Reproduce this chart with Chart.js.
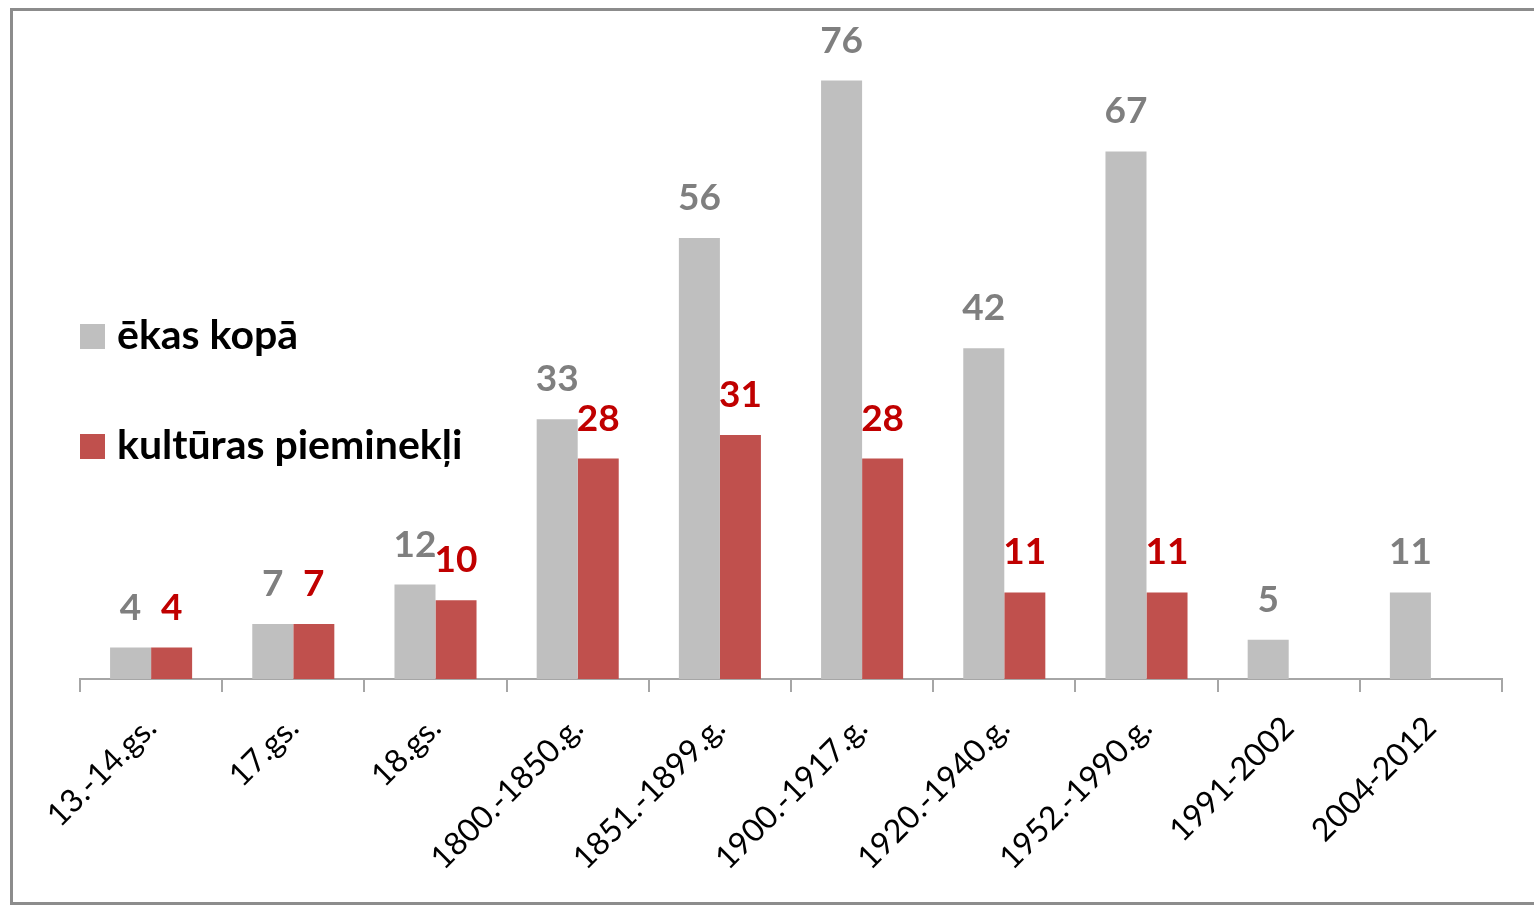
<!DOCTYPE html>
<html>
<head>
<meta charset="utf-8">
<script src="https://cdn.jsdelivr.net/npm/chart.js@4.4.0/dist/chart.umd.min.js"></script>
<style>
    body { margin: 0; background: #fff; overflow: hidden; }
    #frame {
        position: absolute; left: 10px; top: 8px; width: 1600px; height: 897px;
        box-sizing: border-box; border: 3px solid #8c8c8c;
    }
    #chart { position: absolute; left: 0; top: 0; }
</style>
</head>
<body>
<div id="frame"></div>
<canvas id="chart" width="1534" height="906"></canvas>
<script>
    const periods = ['13.-14.gs.', '17.gs.', '18.gs.', '1800.-1850.g.', '1851.-1899.g.', '1900.-1917.g.', '1920.-1940.g.', '1952.-1990.g.', '1991-2002', '2004-2012']
    const buildingsTotal = [4, 7, 12, 33, 56, 76, 42, 67, 5, 11]
    const monuments = [4, 7, 10, 28, 31, 28, 11, 11, null, null]
    const seriesNames = ['ēkas kopā', 'kultūras pieminekļi']

    const FONT = 'Lato, "Open Sans", sans-serif'

    // value labels above each bar
    const valueLabels = {
        id: 'valueLabels',
        afterDatasetsDraw(chart) {
            const ctx = chart.ctx
            ctx.save()
            ctx.textAlign = 'center'
            ctx.textBaseline = 'alphabetic'
            chart.data.datasets.forEach((ds, i) => {
                const meta = chart.getDatasetMeta(i)
                ctx.fillStyle = ds.labelColor
                ctx.font = 'bold 37px ' + FONT
                meta.data.forEach((bar, j) => {
                    const v = ds.data[j]
                    if (v == null) return
                    ctx.fillText(String(v), bar.x, bar.y - 28)
                })
            })
            ctx.restore()
        }
    }

    // legend drawn inside the plot on the left
    const sideLegend = {
        id: 'sideLegend',
        afterDraw(chart) {
            const ctx = chart.ctx
            const rows = [349, 459]
            ctx.save()
            ctx.font = 'bold 41px ' + FONT
            ctx.textBaseline = 'alphabetic'
            ctx.textAlign = 'left'
            chart.data.datasets.forEach((ds, i) => {
                const y = rows[i]
                ctx.fillStyle = ds.backgroundColor
                ctx.fillRect(80, y - 25, 25, 25)
                ctx.fillStyle = '#000'
                ctx.fillText(ds.label, 117, y)
            })
            ctx.restore()
        }
    }

    const ctx = document.getElementById('chart').getContext('2d')
    new Chart(ctx, {
        type: 'bar',
        data: {
            labels: periods,
            datasets: [{
                label: seriesNames[0],
                data: buildingsTotal,
                backgroundColor: '#bfbfbf',
                labelColor: '#7f7f7f',
                categoryPercentage: 0.577,
                barPercentage: 1
            }, {
                label: seriesNames[1],
                data: monuments,
                backgroundColor: '#c0504d',
                labelColor: '#c00000',
                categoryPercentage: 0.577,
                barPercentage: 1
            }]
        },
        options: {
            responsive: false,
            devicePixelRatio: 1,
            animation: false,
            layout: { padding: { left: 80, right: 32, top: 49, bottom: 0 } },
            scales: {
                y: {
                    display: false,
                    min: 0,
                    max: 80
                },
                x: {
                    afterFit: (s) => { s.height = 227 },
                    grid: {
                        offset: true,
                        drawOnChartArea: false,
                        drawTicks: true,
                        tickLength: 13,
                        color: '#a6a6a6',
                        lineWidth: 2
                    },
                    border: { display: true, color: '#a6a6a6', width: 2 },
                    ticks: {
                        autoSkip: false,
                        maxRotation: 45,
                        minRotation: 45,
                        padding: 17,
                        color: '#000',
                        font: { family: FONT, size: 32 }
                    }
                }
            },
            plugins: {
                legend: { display: false },
                tooltip: { enabled: false }
            }
        },
        plugins: [valueLabels, sideLegend]
    });
</script>
</body>
</html>
